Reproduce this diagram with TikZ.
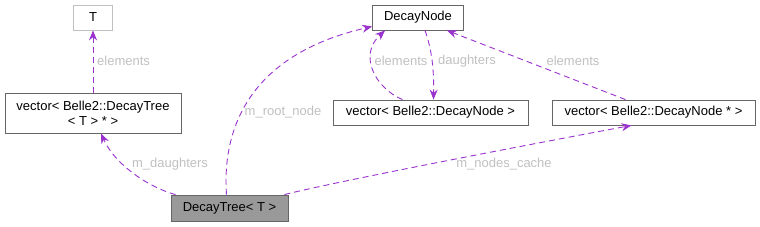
\documentclass[tikz,border=0pt]{standalone}
\usepackage{fontspec}
\setmainfont{Liberation Sans}
\usetikzlibrary{arrows.meta, positioning, calc}
\definecolor{edgepurple}{RGB}{154,50,205}
\definecolor{labelgrey}{RGB}{192,192,192}
\definecolor{boxborder}{RGB}{102,102,102}
\definecolor{treefill}{RGB}{153,153,153}

\begin{document}
\begin{tikzpicture}[x=1pt, y=-1pt,
  box/.style={draw=boxborder, fill=white, line width=0.8pt, inner sep=0pt, minimum height=25pt, font=\fontsize{13}{15}\selectfont, align=center},
  dep/.style={edgepurple, line width=0.9pt, dash pattern=on 6pt off 4pt, -{Stealth[length=10pt, width=8pt]}},
  lbl/.style={labelgrey, font=\fontsize{13}{15}\selectfont, inner sep=0pt}]
  \useasboundingbox (0,0) rectangle (760,227);

  % classes
  \node[box, draw=labelgrey, minimum width=39pt] (tparam) at (93,17.5) {T};
  \node[box, minimum width=176pt, minimum height=40pt] (vectree) at (93,113) {vector< Belle2::DecayTree\\< T > * >};
  \node[box, minimum width=91pt] (decaynode) at (418,17.5) {DecayNode};
  \node[box, minimum width=195pt] (vecnode) at (430.5,112.5) {vector< Belle2::DecayNode >};
  \node[box, minimum width=203pt] (vecnodeptr) at (653.5,112.5) {vector< Belle2::DecayNode * >};
  \node[box, fill=treefill, minimum width=117pt, minimum height=26pt] (tree) at (229.5,208) {DecayTree< T >};

  % vector of trees
  \draw[dep] (vectree.north) -- (tparam.south);
  \node[lbl, right] at (97,61) {elements};

  % m_daughters
  \draw[dep] ($(tree.north west)+(5,0)$) .. controls (150,188) and (115,165) .. ($(vectree.south)+(8,0)$);
  \node[lbl] at (170,164) {m\_daughters};

  % m_root_node
  \draw[dep] ($(tree.north)+(-3,0)$) .. controls (222,130) and (248,55) .. ($(decaynode.west)+(0,9)$);
  \node[lbl] at (283,112) {m\_root\_node};

  % m_nodes_cache
  \draw[dep] ($(tree.north east)+(-4,0)$) .. controls (330,183) and (500,150) .. ($(vecnodeptr.south)+(-22,0)$);
  \node[lbl] at (504,164) {m\_nodes\_cache};

  % vector of nodes
  \draw[dep] ($(vecnode.north)+(-28,0)$) .. controls (375,88) and (358,55) .. ($(decaynode.south west)+(13,0)$);
  \node[lbl] at (401,61) {elements};
  \draw[dep] ($(decaynode.south)+(7,0)$) .. controls (432,50) and (434,70) .. ($(vecnode.north)+(3,0)$);
  \node[lbl] at (467,61) {daughters};

  % vector of node pointers
  \draw[dep] ($(vecnodeptr.north)+(-28,0)$) -- ($(decaynode.south east)+(-17,0)$);
  \node[lbl] at (573,61) {elements};
\end{tikzpicture}
\end{document}
